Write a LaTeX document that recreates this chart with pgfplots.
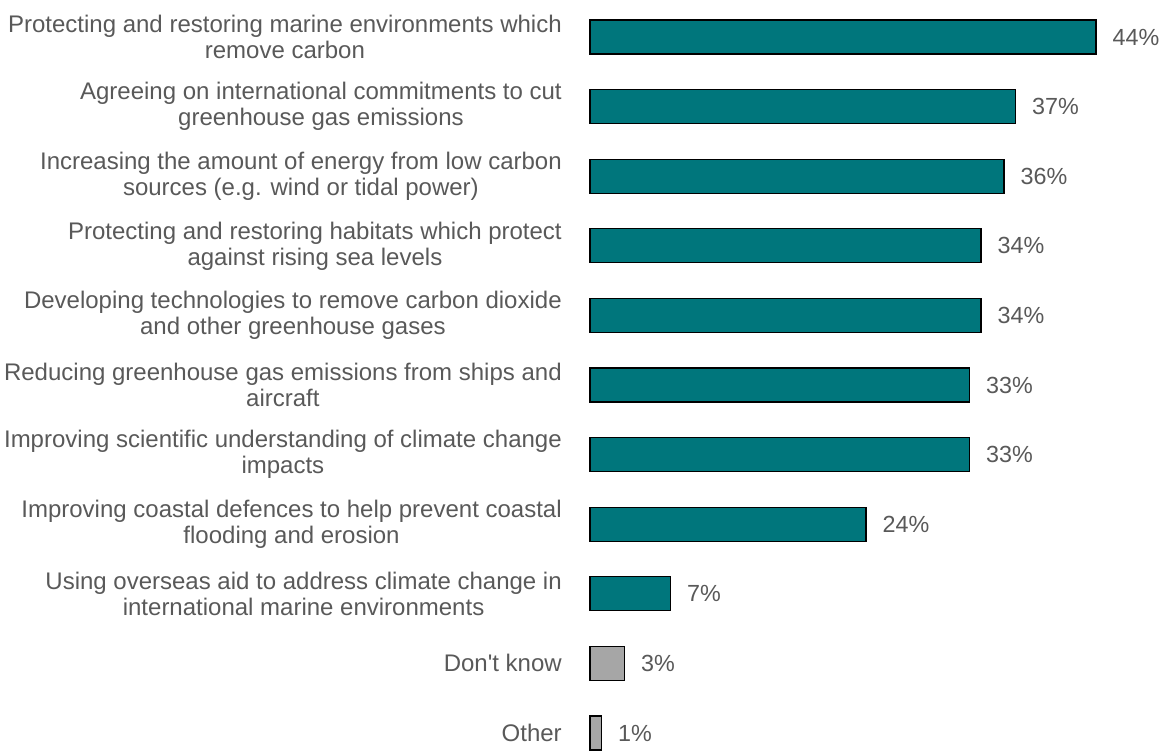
\documentclass[border=0pt]{standalone}
\usepackage{pgfplots}
\pgfplotsset{compat=1.18}
\usepackage{fontspec}
\setmainfont{Liberation Sans}
\definecolor{teal}{RGB}{0,118,124}
\definecolor{greybar}{RGB}{166,166,166}
\definecolor{txt}{RGB}{89,89,89}

% 1 px of the reference = 0.75pt
\begin{document}
\begin{tikzpicture}
\begin{axis}[
    name=ax,
    at={(0,0)}, anchor=south west,
    scale only axis,
    width=379.5pt, height=561.75pt,
    xbar, bar shift=0pt,
    bar width=25.5pt,
    xmin=0, xmax=44,
    ymin=-0.532, ymax=10.23,
    y dir=reverse,
    axis line style={draw=none},
    xtick=\empty,
    ytick={0,...,10},
    major tick length=0pt,
    yticklabels={
        {Protecting and restoring marine environments which\\remove carbon},
        {Agreeing on international commitments to cut\\greenhouse gas emissions},
        {Increasing the amount of energy from low carbon\\sources (e.g. wind or tidal power)},
        {Protecting and restoring habitats which protect\\against rising sea levels},
        {Developing technologies to remove carbon dioxide\\and other greenhouse gases},
        {Reducing greenhouse gas emissions from ships and\\aircraft},
        {Improving scientific understanding of climate change\\impacts},
        {Improving coastal defences to help prevent coastal\\flooding and erosion},
        {Using overseas aid to address climate change in\\international marine environments},
        {Don\textquotesingle t know},
        {Other}},
    yticklabel style={align=center, anchor=east, inner sep=0pt, xshift=-21pt,
        font=\fontsize{18}{19.5}\selectfont, text=txt},
    /pgf/number format/assume math mode=true,
    nodes near coords={\pgfmathprintnumber{\pgfplotspointmeta}\%},
    nodes near coords style={anchor=west, inner sep=0pt, xshift=12pt,
        font=\fontsize{17.5}{19.5}\selectfont, text=txt},
    clip=false,
]
\addplot[fill=teal, draw=black, line width=0.9pt] coordinates {
    (44,0) (37,1) (36,2) (34,3) (34,4) (33,5) (33,6) (24,7) (7,8)
};
\addplot[fill=greybar, draw=black, line width=0.9pt] coordinates {
    (3,9) (1,10)
};
\end{axis}
\path[use as bounding box] (-442.5pt,0) rectangle (430.5pt,561.75pt);
\end{tikzpicture}
\end{document}
